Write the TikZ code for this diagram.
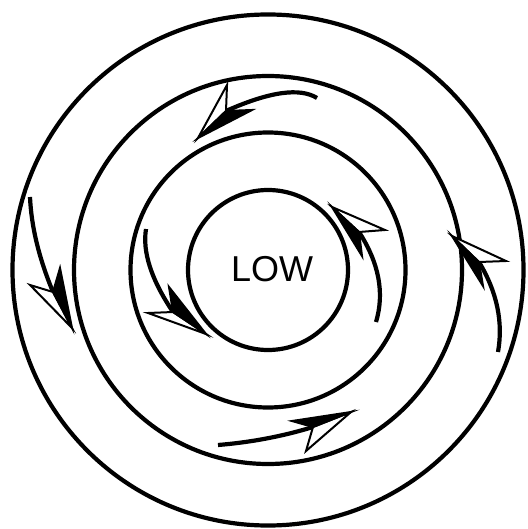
\documentclass[tikz,border=0pt]{standalone}
\usepackage{fontspec}
\setmainfont{Liberation Sans}
\begin{document}
\begin{tikzpicture}[x=1pt,y=-1pt,
  ring/.style={line width=4.2pt},
  shaft/.style={line width=4.2pt},
  headwhite/.style={fill=white,draw=black,line width=2pt,line join=miter},
  headblack/.style={fill=black,draw=black,line width=2pt,line join=miter}]
\useasboundingbox (0,0) rectangle (527,529);
% rings
\coordinate (c) at (268,270);
\draw[ring] (c) circle[radius=255.5];
\draw[ring] (c) circle[radius=194];
\draw[ring] (c) circle[radius=137.5];
\draw[ring] (c) circle[radius=80];
\node[font=\fontsize{36}{40}\selectfont,inner sep=0pt] (low) at (272,269) {LOW};
% arrow 1 (top)
\draw[shaft] (317,98) .. controls (299.7,87.3) and (269.3,91.7) .. (226,111);
\draw[headwhite] (198,138) -- (227,85) -- (226,111) -- cycle;
\draw[headblack] (198,138) -- (226,111) -- (252,110) -- cycle;
% arrow 2 (left outer)
\draw[shaft] (30,197) .. controls (31.3,226.7) and (39,258.3) .. (53,292);
\draw[headwhite] (72,328) -- (30,285) -- (53,292) -- cycle;
\draw[headblack] (72,328) -- (53,292) -- (60,268) -- cycle;
% arrow 3 (left inner)
\draw[shaft] (146,229) .. controls (142.3,252) and (151.3,279.7) .. (173,312);
\draw[headwhite] (206,334) -- (148,313) -- (173,312) -- cycle;
\draw[headblack] (206,334) -- (173,312) -- (169,287) -- cycle;
% arrow 4 (right inner)
\draw[shaft] (376,322) .. controls (384.7,293) and (379,263) .. (359,232);
\draw[headwhite] (332,207) -- (385,230) -- (359,232) -- cycle;
\draw[headblack] (332,207) -- (359,232) -- (362,256) -- cycle;
% arrow 5 (right outer)
\draw[shaft] (498,352) .. controls (503.3,322) and (497,292) .. (479,262);
\draw[headwhite] (452,236) -- (506,261) -- (479,262) -- cycle;
\draw[headblack] (452,236) -- (479,262) -- (483,286) -- cycle;
% arrow 6 (bottom)
\draw[shaft] (218,445) .. controls (251,442.3) and (282.7,436.3) .. (313,427);
\draw[headwhite] (351,412) -- (306,451) -- (313,427) -- cycle;
\draw[headblack] (351,412) -- (313,427) -- (292,421) -- cycle;
\end{tikzpicture}
\end{document}
